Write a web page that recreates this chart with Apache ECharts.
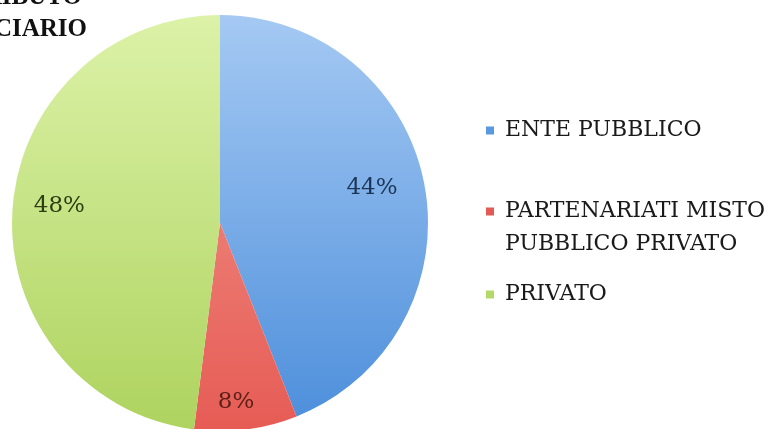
<!DOCTYPE html>
<html>
<head>
<meta charset="utf-8">
<script src="https://cdn.jsdelivr.net/npm/echarts@6/dist/echarts.min.js"></script>
<style>
html,body{margin:0;padding:0;background:#fff;}
#c{width:770px;height:429px;}
</style>
</head>
<body>
<div id="c"></div>
<script>
var categories = ['ENTE PUBBLICO', 'PARTENARIATI MISTO\nPUBBLICO PRIVATO', 'PRIVATO'];
var values = [44, 8, 48];
var titleLines = ['RIBUTO', 'CIARIO'];

var grad = function (top, bottom) {
  return new echarts.graphic.LinearGradient(0, 15, 0, 430, [
    { offset: 0, color: top }, { offset: 1, color: bottom }
  ], true);
};
var sliceColors = [grad('#a5c9f3', '#4c8edb'), grad('#f29a90', '#e65c55'), grad('#dcf2a8', '#aed35f')];
var iconColors = ['#5a98e2', '#e35a55', '#b6d868'];
var labelColors = ['#1d3658', '#5b1f16', '#2f3e14'];
var labelNudge = [[-13, -3], [-5, 12], [7, -6]];
var serif = 'DejaVu Serif';

var chart = echarts.init(document.getElementById('c'), null, { renderer: 'canvas' });

function legendFor(i, top) {
  return {
    orient: 'vertical', left: 481, top: top,
    itemWidth: 8, itemHeight: 8, icon: 'rect', itemGap: 0,
    selectedMode: false,
    formatter: function (name) {
      var lines = name.split('\n').map(function (l) { return '{s|}{t|' + l + '}'; });
      if (lines.length > 1) lines.unshift('{t| }');
      return lines.join('\n');
    },
    textStyle: {
      fontFamily: serif, fontSize: 22, color: '#1a1a1a', lineHeight: 33,
      rich: {
        s: { width: 6, lineHeight: 33 },
        t: { fontFamily: serif, fontSize: 22, color: '#1a1a1a', lineHeight: 33 }
      }
    },
    data: [{ name: categories[i], itemStyle: { color: iconColors[i] } }]
  };
}

var pieData = categories.map(function (n, i) {
  return { name: n, value: values[i], itemStyle: { color: sliceColors[i] } };
});
var labelData = categories.map(function (n, i) {
  return { name: n, value: values[i], label: { color: labelColors[i] } };
});

chart.setOption({
  animation: false,
  legend: [legendFor(0, 109), legendFor(1, 157), legendFor(2, 273)],
  graphic: [
    { type: 'text', x: 82, y: -15, style: { text: titleLines[0], font: 'bold 25px "Liberation Serif"', fill: '#111', textAlign: 'right' } },
    { type: 'text', x: 87, y: 17, style: { text: titleLines[1], font: 'bold 25px "Liberation Serif"', fill: '#111', textAlign: 'right' } }
  ],
  series: [
    {
      type: 'pie', center: [220, 223], radius: [0, 208], startAngle: 90, clockwise: true,
      label: { show: false }, labelLine: { show: false }, silent: true,
      emphasis: { disabled: true },
      data: pieData
    },
    {
      type: 'pie', center: [220, 223], radius: [122, 208], startAngle: 90, clockwise: true,
      itemStyle: { color: 'rgba(0,0,0,0)' }, silent: true,
      emphasis: { disabled: true },
      label: { show: true, position: 'inside', formatter: '{c}%', fontFamily: serif, fontSize: 23 },
      labelLine: { show: false },
      labelLayout: function (p) {
        return { dx: labelNudge[p.dataIndex][0], dy: labelNudge[p.dataIndex][1] };
      },
      data: labelData
    }
  ]
});
</script>
</body>
</html>
